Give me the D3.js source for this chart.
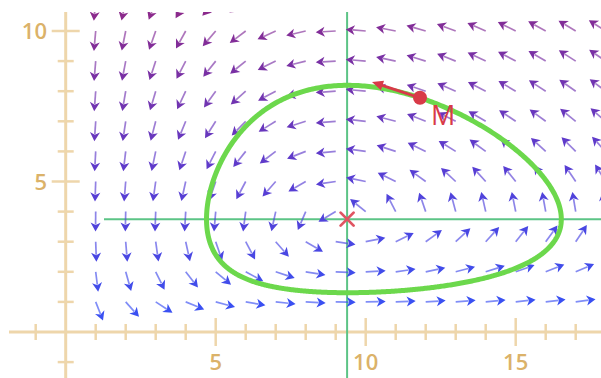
<!DOCTYPE html>
<html><head><meta charset="utf-8">
<script src="https://cdn.jsdelivr.net/npm/d3@7"></script>
<style>html,body{margin:0;padding:0;background:#fff;overflow:hidden}</style>
</head><body>
<svg id="c" width="601" height="378"></svg>
<script>
// ---- data ----
const modelParams = [0.12, 0.032, 0.0266, 0.25];   // a, b, c, d  (Lotka–Volterra)
const equilibrium = [9.38, 3.75];
const pointM = [11.81, 7.78];
const gridX = [1,2,3,4,5,6,7,8,9,10,11,12,13,14,15,16,17,18];
const gridY = [1,2,3,4,5,6,7,8,9,10,11];
const xTicks = [-1,0,1,2,3,4,5,6,7,8,9,10,11,12,13,14,15,16,17,18];
const yTicks = [-1,0,1,2,3,4,5,6,7,8,9,10];
const xLabels = [5,10,15];
const yLabels = [5,10];

const [a,b,c,d] = modelParams;
const field = (x,y)=>[x*(a-b*y), y*(c*x-d)];

const svg = d3.select("#c");
const W=601,H=378;
const x = d3.scaleLinear().domain([0,10]).range([65.7,365.7]);
const y = d3.scaleLinear().domain([0,10]).range([332,31]);

svg.append("defs").append("clipPath").attr("id","clip")
  .append("rect").attr("x",0).attr("y",12).attr("width",W).attr("height",H-12);

// axes
const axCol="#eed6ab", lblCol="#dbb269";
const ax = svg.append("g");
ax.append("line").attr("x1",9).attr("x2",W).attr("y1",y(0)).attr("y2",y(0))
  .attr("stroke",axCol).attr("stroke-width",3);
ax.append("line").attr("x1",x(0)).attr("x2",x(0)).attr("y1",12).attr("y2",H)
  .attr("stroke",axCol).attr("stroke-width",3);
xTicks.filter(t=>t!==0).forEach(t=>{
  const big = t%5===0, h = big?14:8;
  ax.append("line").attr("x1",x(t)).attr("x2",x(t)).attr("y1",y(0)-h).attr("y2",y(0)+h)
    .attr("stroke",axCol).attr("stroke-width",2.5);
});
yTicks.filter(t=>t!==0).forEach(t=>{
  const big = t%5===0, h = big?14:8;
  ax.append("line").attr("y1",y(t)).attr("y2",y(t)).attr("x1",x(0)-h).attr("x2",x(0)+h)
    .attr("stroke",axCol).attr("stroke-width",2.5);
});
xLabels.forEach(t=>{
  ax.append("text").attr("x",x(t)).attr("y",370).attr("text-anchor","middle")
    .attr("font-family","Open Sans").attr("font-weight",600).attr("font-size",22)
    .attr("fill",lblCol).text(t);
});
yLabels.forEach(t=>{
  ax.append("text").attr("x",47).attr("y",y(t)+8).attr("text-anchor","end")
    .attr("font-family","Open Sans").attr("font-weight",600).attr("font-size",22)
    .attr("fill",lblCol).text(t);
});

const g = svg.append("g").attr("clip-path","url(#clip)");

// nullclines
g.append("line").attr("x1",x(equilibrium[0])).attr("x2",x(equilibrium[0])).attr("y1",0).attr("y2",H)
  .attr("stroke","#5cc486").attr("stroke-width",2);
g.append("line").attr("x1",104).attr("x2",W).attr("y1",y(equilibrium[1])).attr("y2",y(equilibrium[1]))
  .attr("stroke","#5cc486").attr("stroke-width",2);

// vector field
const col = d3.scaleLinear().domain([1,5.5,10]).range(["#3a50f2","#5b3cd0","#822d98"]).interpolate(d3.interpolateRgb);
const L=20, HL=9, HW=5;
gridX.forEach(gx=>gridY.forEach(gy=>{
  const v = field(gx,gy);
  let px = x(gx+v[0])-x(gx), py = y(gy+v[1])-y(gy);
  const n = Math.hypot(px,py); if(!n) return;
  px/=n; py/=n;
  const x0=x(gx), y0=y(gy);
  const bx=x0+px*(L-HL), by=y0+py*(L-HL);
  const tx=x0+px*L, ty=y0+py*L;
  const cl = col(gy);
  g.append("line").attr("x1",x0).attr("y1",y0).attr("x2",bx+px*2).attr("y2",by+py*2)
    .attr("stroke",cl).attr("stroke-width",1.7).attr("stroke-opacity",0.65);
  g.append("path").attr("d",`M${tx},${ty}L${bx-py*HW},${by+px*HW}L${bx+px*2.5},${by+py*2.5}L${bx+py*HW},${by-px*HW}Z`)
    .attr("fill",cl);
}));

// trajectory through M (integrate the model)
const pts=[]; let s=[pointM[0],pointM[1]]; const dt=0.05;
for(let i=0;i<1300;i++){
  pts.push(s.slice());
  const f=(p)=>field(p[0],p[1]);
  const k1=f(s), k2=f([s[0]+dt/2*k1[0],s[1]+dt/2*k1[1]]),
        k3=f([s[0]+dt/2*k2[0],s[1]+dt/2*k2[1]]), k4=f([s[0]+dt*k3[0],s[1]+dt*k3[1]]);
  s=[s[0]+dt/6*(k1[0]+2*k2[0]+2*k3[0]+k4[0]), s[1]+dt/6*(k1[1]+2*k2[1]+2*k3[1]+k4[1])];
}
g.append("path").datum(pts).attr("d",d3.line().x(p=>x(p[0])).y(p=>y(p[1])))
  .attr("fill","none").attr("stroke","#6cd84c").attr("stroke-width",5).attr("stroke-linejoin","round");

// equilibrium cross
const ex=x(equilibrium[0]), ey=y(equilibrium[1]), cs=6.5;
g.append("path").attr("d",`M${ex-cs},${ey-cs}L${ex+cs},${ey+cs}M${ex-cs},${ey+cs}L${ex+cs},${ey-cs}`)
  .attr("stroke","#e05562").attr("stroke-width",2.8).attr("stroke-linecap","round");

// velocity at M
const vM = field(pointM[0],pointM[1]);
const mx=x(pointM[0]), my=y(pointM[1]);
const tx=x(pointM[0]+vM[0]*1.05), ty=y(pointM[1]+vM[1]*1.05);
let ux=tx-mx, uy=ty-my; const un=Math.hypot(ux,uy); ux/=un; uy/=un;
const bx=tx-ux*11, by=ty-uy*11;
g.append("line").attr("x1",mx).attr("y1",my).attr("x2",bx+ux*2).attr("y2",by+uy*2)
  .attr("stroke","#d83a48").attr("stroke-width",3);
g.append("path").attr("d",`M${tx},${ty}L${bx-uy*5},${by+ux*5}L${bx+uy*5},${by-ux*5}Z`).attr("fill","#d83a48");
g.append("circle").attr("cx",mx).attr("cy",my).attr("r",7).attr("fill","#d83a48");
g.append("text").attr("x",mx+11).attr("y",my+27).attr("font-family","Open Sans")
  .attr("font-size",27).attr("fill","#d83a48").text("M");
</script>
</body></html>
